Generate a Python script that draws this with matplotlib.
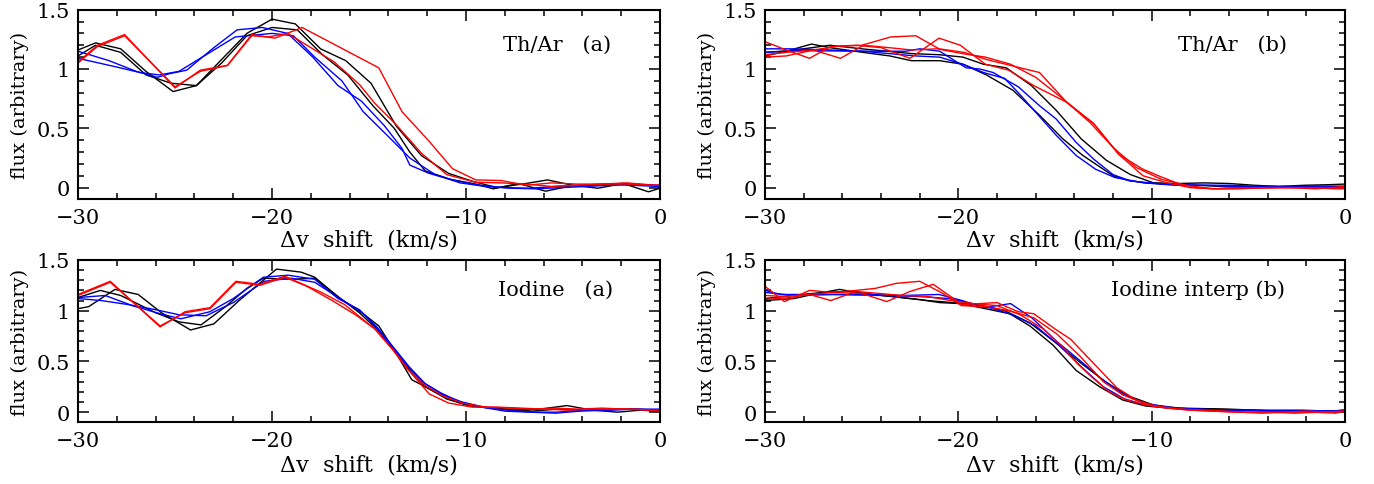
import matplotlib
matplotlib.use("Agg")
import matplotlib.pyplot as plt
from matplotlib.ticker import MultipleLocator, FuncFormatter

# ---------------- Th/Ar (a) ----------------
tha_k1_v = [-30, -29.1, -27.8, -26.5, -25.1, -23.9, -22.6, -21.3, -20.0, -18.8, -17.5, -16.2, -14.9, -13.6,
            -12.3, -10.9, -9.6, -8.4, -7.1, -5.8, -4.5, -3.2, -1.9, -0.6, 0]
tha_k1_f = [1.16, 1.22, 1.17, 0.98, 0.81, 0.86, 1.08, 1.30, 1.42, 1.38, 1.17, 1.07, 0.88, 0.52,
            0.27, 0.12, 0.05, 0.00, 0.03, 0.065, 0.02, -0.005, 0.035, -0.035, -0.005]
tha_k2_v = [-30, -29.1, -27.8, -26.5, -25.2, -23.9, -22.6, -21.3, -20.0, -18.7, -17.4, -16.1, -14.8, -13.7,
            -12.9, -12.1, -10.8, -9.5, -8.6, -7.3, -5.9, -4.6, -3.3, -2.0, -0.7, 0]
tha_k2_f = [1.11, 1.20, 1.14, 0.95, 0.88, 0.86, 1.05, 1.28, 1.35, 1.33, 1.12, 0.95, 0.69, 0.50,
            0.30, 0.14, 0.07, 0.03, -0.01, 0.035, -0.03, 0.015, 0.02, 0.035, 0.02, 0.01]
tha_b1_v = [-30, -28.4, -27.0, -25.9, -25.3, -24.4, -23.0, -21.8, -20.5, -19.2, -17.9, -16.6, -15.4, -14.2,
            -13.3, -12.9, -11.9, -10.6, -9.3, -8.0, -6.7, -5.4, -4.1, -2.8, -1.5, 0]
tha_b1_f = [1.15, 1.07, 0.98, 0.93, 0.96, 0.99, 1.18, 1.33, 1.35, 1.30, 1.10, 0.86, 0.73, 0.52,
            0.33, 0.19, 0.12, 0.06, 0.02, 0.00, -0.005, 0.01, 0.02, 0.03, 0.02, 0.01]
tha_b2_v = [-30, -28.1, -26.8, -25.8, -24.8, -23.4, -21.9, -20.0, -18.9, -17.8, -16.4, -15.3, -14.0, -12.9,
            -11.6, -10.3, -9.0, -7.7, -6.4, -5.1, -3.8, -2.5, -1.2, 0]
tha_b2_f = [1.09, 1.02, 0.97, 0.95, 0.98, 1.12, 1.27, 1.30, 1.28, 1.10, 0.90, 0.64, 0.43, 0.25,
            0.11, 0.04, 0.01, -0.005, -0.01, 0.00, 0.01, 0.02, 0.03, 0.02]
tha_r1_v = [-30, -29.0, -27.6, -25.0, -23.7, -22.3, -21.05, -19.85, -18.45, -14.5, -13.3, -11.9, -10.7,
            -9.5, -8.2, -6.9, -5.6, -4.3, -3.0, -1.7, -0.4, 0]
tha_r1_f = [1.06, 1.20, 1.29, 0.84, 0.99, 1.03, 1.29, 1.26, 1.35, 1.01, 0.64, 0.39, 0.16,
            0.065, 0.06, 0.02, 0.04, 0.03, 0.03, 0.04, 0.02, 0.02]
tha_r2_v = [-30, -29.0, -27.6, -25.0, -23.7, -22.3, -21.05, -20.2, -19.2, -17.8, -16.8, -15.5, -14.7, -13.6,
            -12.3, -11.0, -9.5, -8.2, -6.9, -5.6, -4.3, -3.0, -1.7, -0.4, 0]
tha_r2_f = [1.05, 1.19, 1.28, 0.85, 0.98, 1.03, 1.28, 1.27, 1.30, 1.16, 1.06, 0.87, 0.71, 0.53,
            0.29, 0.11, 0.045, 0.04, 0.03, 0.01, 0.02, 0.03, 0.03, 0.02, 0.02]

# ---------------- Th/Ar (b) ----------------
thb_k1_v = [-30, -28.9, -27.6, -26.65, -24.93, -23.55, -22.43, -20.97, -19.76, -18.55, -17.17, -15.8,
            -14.59, -13.55, -12.0, -11.2, -10.3, -9.0, -7.7, -6.4, -5.1, -3.8, -2.5, -1.2, 0]
thb_k1_f = [1.11, 1.15, 1.21, 1.18, 1.14, 1.11, 1.07, 1.07, 1.04, 0.95, 0.82, 0.61,
            0.41, 0.27, 0.10, 0.06, 0.04, 0.03, 0.02, 0.01, 0.00, 0.00, 0.01, 0.01, 0.01]
thb_k2_v = [-30, -28.7, -26.65, -25.0, -22.43, -20.97, -19.76, -18.7, -17.52, -16.22, -14.93, -13.64,
            -12.34, -11.1, -9.9, -8.6, -7.3, -6.0, -4.7, -3.4, -2.1, -0.8, 0]
thb_k2_f = [1.14, 1.155, 1.20, 1.17, 1.13, 1.12, 1.10, 1.04, 1.01, 0.86, 0.65, 0.41,
            0.23, 0.11, 0.04, 0.035, 0.04, 0.035, 0.02, 0.01, 0.02, 0.025, 0.03]
thb_b1_v = [-30, -28.7, -26.6, -24.9, -22.7, -22.0, -20.97, -19.6, -18.9, -18.2, -16.9, -15.8, -14.95,
            -13.9, -13.0, -12.0, -11.1, -9.4, -7.7, -6.0, -4.3, -2.6, -0.9, 0]
thb_b1_f = [1.17, 1.17, 1.16, 1.15, 1.15, 1.17, 1.15, 1.01, 1.00, 0.97, 0.85, 0.69, 0.58,
            0.38, 0.24, 0.11, 0.056, 0.03, 0.02, 0.02, 0.01, 0.01, 0.01, 0.01]
thb_b2_v = [-30, -28.3, -25.0, -22.2, -20.97, -19.76, -18.7, -17.6, -16.9, -15.97, -14.93, -13.9,
            -12.9, -11.9, -10.4, -8.8, -7.2, -5.6, -4.0, -2.4, -0.8, 0]
thb_b2_f = [1.14, 1.155, 1.15, 1.11, 1.10, 1.04, 0.97, 0.92, 0.80, 0.63, 0.44, 0.27,
            0.155, 0.085, 0.04, 0.02, 0.02, 0.01, 0.01, 0.01, 0.01, 0.01]
thb_r1_v = [-30, -28.9, -27.5, -26.3, -25.0, -23.5, -22.2, -21.0, -19.7, -18.55, -17.3, -15.8, -14.4,
            -13.0, -11.7, -10.45, -9.5, -8.55, -7.7, -6.5, -5.3, -4.0, -2.8, -1.5, 0]
thb_r1_f = [1.12, 1.14, 1.16, 1.19, 1.20, 1.27, 1.28, 1.17, 1.14, 1.08, 1.03, 0.97, 0.72,
            0.54, 0.28, 0.155, 0.09, 0.03, 0.00, -0.01, -0.005, 0.00, 0.00, -0.01, 0.01]
thb_r2_v = [-30, -28.9, -27.7, -26.6, -25.3, -24.0, -22.5, -21.0, -19.9, -18.6, -17.4, -16.1, -14.4,
            -13.0, -11.7, -10.45, -9.2, -8.0, -6.8, -5.5, -4.2, -3.0, -1.7, -0.5, 0]
thb_r2_f = [1.23, 1.16, 1.09, 1.19, 1.20, 1.18, 1.09, 1.26, 1.20, 1.04, 0.99, 0.86, 0.72,
            0.54, 0.28, 0.10, 0.04, 0.00, -0.01, -0.01, 0.00, 0.00, 0.00, -0.01, -0.01]
thb_r3_v = [-30, -28.9, -27.5, -26.1, -24.9, -23.6, -22.4, -21.1, -19.8, -18.6, -17.3, -16.0, -14.6,
            -13.2, -12.0, -10.8, -9.5, -8.2, -6.9, -5.6, -4.3, -3.0, -1.7, -0.4, 0]
thb_r3_f = [1.10, 1.11, 1.16, 1.09, 1.20, 1.18, 1.16, 1.17, 1.13, 1.10, 1.04, 0.93, 0.75,
            0.55, 0.34, 0.17, 0.07, 0.02, -0.01, 0.00, 0.00, 0.00, 0.00, 0.00, 0.00]

# ---------------- Iodine (a) ----------------
ioa_k1_v = [-30, -29.45, -28.1, -26.9, -25.7, -24.2, -23.0, -21.7, -19.77, -18.5, -17.8, -16.5, -15.3,
            -14.5, -13.6, -12.8, -12.0, -11.0, -9.8, -8.7, -7.5, -6.2, -4.8, -3.5, -2.2, -1.0, 0]
ioa_k1_f = [1.02, 1.04, 1.21, 1.16, 0.98, 0.81, 0.87, 1.10, 1.41, 1.38, 1.33, 1.12, 0.97,
            0.85, 0.58, 0.32, 0.24, 0.13, 0.06, 0.04, 0.02, 0.03, 0.065, 0.02, 0.00, 0.02, 0.01]
ioa_k2_v = [-30, -28.85, -27.8, -26.0, -24.8, -23.66, -22.4, -21.3, -20.45, -19.0, -17.8, -16.6, -15.5,
            -14.6, -13.7, -12.9, -12.1, -11.2, -10.3, -9.2, -7.9, -6.6, -5.3, -4.0, -2.7, -1.4, 0]
ioa_k2_f = [1.13, 1.20, 1.15, 0.98, 0.89, 0.86, 1.04, 1.22, 1.32, 1.31, 1.32, 1.14, 0.98,
            0.82, 0.62, 0.41, 0.25, 0.16, 0.09, 0.05, 0.03, 0.01, 0.03, 0.02, 0.03, 0.03, 0.02]
ioa_b1_v = [-30, -28.6, -27.2, -25.77, -24.7, -23.2, -22.0, -20.45, -19.17, -17.8, -16.6, -15.5, -14.7,
            -13.8, -13.0, -12.2, -11.3, -10.3, -9.2, -8.0, -6.7, -5.4, -4.1, -2.8, -1.5, 0]
ioa_b1_f = [1.13, 1.15, 1.05, 0.97, 0.92, 0.99, 1.12, 1.33, 1.35, 1.31, 1.12, 1.01, 0.85,
            0.64, 0.45, 0.29, 0.19, 0.10, 0.05, 0.01, 0.00, -0.01, 0.01, 0.02, 0.03, 0.02]
ioa_b2_v = [-30, -28.8, -27.4, -26.0, -24.8, -23.4, -22.0, -20.4, -19.0, -17.8, -16.5, -15.4, -14.6,
            -13.7, -12.9, -12.1, -11.2, -10.2, -9.1, -7.9, -6.6, -5.3, -4.0, -2.7, -1.4, 0]
ioa_b2_f = [1.12, 1.10, 1.06, 1.01, 0.96, 0.95, 1.08, 1.29, 1.32, 1.28, 1.12, 0.99, 0.84,
            0.63, 0.44, 0.28, 0.17, 0.10, 0.05, 0.02, 0.00, 0.00, 0.02, 0.02, 0.03, 0.03]
ioa_r1_v = [-30, -28.34, -25.77, -24.48, -23.2, -21.86, -20.63, -19.34, -17.45, -16.26, -14.7, -13.7,
            -12.9, -11.9, -10.9, -9.7, -8.4, -7.2, -6.0, -4.8, -3.6, -2.4, -1.2, 0]
ioa_r1_f = [1.16, 1.29, 0.84, 0.99, 1.03, 1.29, 1.26, 1.34, 1.18, 1.06, 0.82, 0.60,
            0.40, 0.18, 0.09, 0.05, 0.05, 0.04, 0.03, 0.02, 0.03, 0.03, 0.03, 0.01]
ioa_r2_v = [-30, -28.34, -25.77, -24.48, -23.2, -21.86, -20.63, -19.34, -18.2, -16.9, -15.7, -14.7,
            -13.8, -13.0, -12.1, -11.2, -10.2, -9.0, -7.8, -6.6, -5.4, -4.2, -3.0, -1.8, -0.6, 0]
ioa_r2_f = [1.15, 1.28, 0.85, 0.98, 1.02, 1.28, 1.25, 1.33, 1.24, 1.10, 0.96, 0.82,
            0.62, 0.42, 0.26, 0.16, 0.09, 0.05, 0.04, 0.03, 0.04, 0.03, 0.04, 0.03, 0.02, 0.02]

# ---------------- Iodine interp (b) ----------------
iob_k1_v = [-30, -28.5, -27.3, -26.14, -25.0, -23.4, -22.0, -20.97, -19.9, -18.6, -17.34, -16.3, -15.1,
            -13.9, -12.69, -11.5, -10.3, -9.1, -7.9, -6.7, -5.4, -4.2, -3.0, -1.7, -0.5, 0]
iob_k1_f = [1.10, 1.12, 1.17, 1.21, 1.17, 1.14, 1.11, 1.08, 1.07, 1.02, 0.97, 0.85, 0.66,
            0.41, 0.25, 0.12, 0.06, 0.04, 0.03, 0.03, 0.02, 0.01, 0.01, 0.01, 0.01, 0.02]
iob_k2_v = [-30, -28.6, -27.0, -25.7, -24.4, -23.0, -21.6, -20.3, -19.0, -17.6, -16.3, -15.0, -13.7,
            -12.4, -11.2, -9.9, -8.6, -7.3, -6.0, -4.7, -3.4, -2.1, -0.8, 0]
iob_k2_f = [1.12, 1.15, 1.18, 1.19, 1.16, 1.13, 1.10, 1.08, 1.06, 1.00, 0.88, 0.69, 0.49,
            0.30, 0.16, 0.07, 0.04, 0.035, 0.03, 0.02, 0.01, 0.01, 0.01, 0.02]
iob_b1_v = [-30, -29.2, -27.0, -24.8, -22.9, -21.0, -19.8, -18.7, -17.3, -16.2, -14.93, -13.72, -12.6,
            -11.5, -10.4, -9.2, -7.8, -6.4, -5.0, -3.6, -2.2, -0.8, 0]
iob_b1_f = [1.20, 1.16, 1.16, 1.16, 1.15, 1.16, 1.10, 1.03, 1.07, 0.93, 0.70, 0.51, 0.33,
            0.18, 0.09, 0.05, 0.03, 0.02, 0.02, 0.02, 0.02, 0.01, 0.02]
iob_b2_v = [-30, -28.5, -26.5, -24.0, -22.0, -20.5, -19.3, -18.2, -17.2, -16.0, -14.8, -13.6, -12.5,
            -11.4, -10.3, -9.0, -7.6, -6.2, -4.8, -3.4, -2.0, -0.6, 0]
iob_b2_f = [1.18, 1.15, 1.16, 1.15, 1.14, 1.12, 1.07, 1.02, 0.96, 0.85, 0.66, 0.44, 0.25,
            0.13, 0.07, 0.04, 0.03, 0.02, 0.02, 0.01, 0.01, 0.01, 0.01]
iob_r1_v = [-30, -29.0, -27.7, -26.5, -25.3, -24.3, -23.2, -22.0, -20.8, -19.84, -18.5, -17.2, -16.1,
            -14.9, -13.7, -12.5, -11.5, -10.3, -9.2, -8.0, -6.8, -5.5, -4.3, -3.0, -1.7, -0.5, 0]
iob_r1_f = [1.15, 1.14, 1.16, 1.18, 1.20, 1.22, 1.27, 1.29, 1.17, 1.05, 1.04, 0.99, 0.93,
            0.77, 0.55, 0.30, 0.17, 0.08, 0.04, 0.02, 0.01, 0.00, -0.01, 0.00, 0.00, -0.01, 0.01]
iob_r2_v = [-30, -29.0, -27.7, -26.5, -25.0, -23.7, -22.5, -21.3, -19.8, -18.0, -16.9, -16.1, -15.0,
            -14.2, -13.4, -12.6, -11.8, -10.8, -9.8, -8.6, -7.4, -6.2, -5.0, -3.8, -2.6, -1.3, 0]
iob_r2_f = [1.24, 1.09, 1.20, 1.18, 1.17, 1.09, 1.19, 1.26, 1.06, 1.08, 0.99, 0.97, 0.82,
            0.72, 0.56, 0.40, 0.24, 0.12, 0.06, 0.03, 0.02, 0.01, 0.00, 0.00, -0.01, 0.00, 0.01]
iob_r3_v = [-30, -28.7, -27.7, -26.6, -25.3, -24.1, -22.9, -21.6, -20.4, -19.2, -18.0, -16.8, -15.6,
            -14.6, -13.8, -13.0, -12.2, -11.3, -10.3, -9.2, -8.0, -6.8, -5.6, -4.4, -3.2, -2.0, -0.8, 0]
iob_r3_f = [1.11, 1.13, 1.16, 1.10, 1.19, 1.17, 1.15, 1.14, 1.10, 1.07, 1.05, 0.96, 0.82,
            0.64, 0.47, 0.33, 0.20, 0.12, 0.07, 0.04, 0.02, 0.01, 0.00, 0.00, 0.00, 0.01, 0.00, 0.01]

panel_labels = ["Th/Ar   (a)", "Th/Ar   (b)", "Iodine   (a)", "Iodine interp (b)"]

panels = [
    [(tha_k1_v, tha_k1_f, "k"), (tha_k2_v, tha_k2_f, "k"), (tha_b1_v, tha_b1_f, "b"),
     (tha_b2_v, tha_b2_f, "b"), (tha_r1_v, tha_r1_f, "r"), (tha_r2_v, tha_r2_f, "r")],
    [(thb_k1_v, thb_k1_f, "k"), (thb_k2_v, thb_k2_f, "k"), (thb_b1_v, thb_b1_f, "b"),
     (thb_b2_v, thb_b2_f, "b"), (thb_r1_v, thb_r1_f, "r"), (thb_r2_v, thb_r2_f, "r"),
     (thb_r3_v, thb_r3_f, "r")],
    [(ioa_k1_v, ioa_k1_f, "k"), (ioa_k2_v, ioa_k2_f, "k"), (ioa_b1_v, ioa_b1_f, "b"),
     (ioa_b2_v, ioa_b2_f, "b"), (ioa_r1_v, ioa_r1_f, "r"), (ioa_r2_v, ioa_r2_f, "r")],
    [(iob_k1_v, iob_k1_f, "k"), (iob_k2_v, iob_k2_f, "k"), (iob_b1_v, iob_b1_f, "b"),
     (iob_b2_v, iob_b2_f, "b"), (iob_r1_v, iob_r1_f, "r"), (iob_r2_v, iob_r2_f, "r"),
     (iob_r3_v, iob_r3_f, "r")],
]

colors = {"k": "#000000", "b": "#0000ff", "r": "#ff0000"}

plt.rcParams["font.family"] = "DejaVu Serif"
plt.rcParams["font.size"] = 14

fig = plt.figure(figsize=(13.74, 4.85), dpi=100)
# [left, bottom, width, height] in figure fraction
rects = [
    [0.0568, 0.5866, 0.4236, 0.3914],
    [0.5568, 0.5866, 0.4221, 0.3914],
    [0.0568, 0.1272, 0.4236, 0.3347],
    [0.5568, 0.1272, 0.4221, 0.3347],
]
label_x = [0.916, 0.90, 0.919, 0.897]


def fmt_x(x, pos):
    return f"{x:.0f}".replace("-", "\u2212")


def fmt_y(y, pos):
    return f"{y:g}"


for i, (rect, lines) in enumerate(zip(rects, panels)):
    ax = fig.add_axes(rect)
    for v, f, c in lines:
        ax.plot(v, f, color=colors[c], lw=1.0)
    ax.set_xlim(-30, 0)
    ax.set_ylim(-0.1, 1.5)
    ax.xaxis.set_major_locator(MultipleLocator(10))
    ax.xaxis.set_minor_locator(MultipleLocator(2))
    ax.yaxis.set_major_locator(MultipleLocator(0.5))
    ax.yaxis.set_minor_locator(MultipleLocator(0.1))
    ax.xaxis.set_major_formatter(FuncFormatter(fmt_x))
    ax.yaxis.set_major_formatter(FuncFormatter(fmt_y))
    ax.tick_params(which="both", direction="in", top=True, right=True, width=1.1, labelsize=15)
    ax.tick_params(which="major", length=8, pad=6)
    ax.tick_params(which="minor", length=4)
    for s in ax.spines.values():
        s.set_linewidth(1.5)
    ax.set_xlabel("\u0394v  shift  (km/s)", fontsize=16)
    ax.set_ylabel("flux (arbitrary)")
    ax.yaxis.set_label_coords(-0.085, 0.5)
    ax.xaxis.set_label_coords(0.5, -0.155 if i < 2 else -0.195)
    ax.text(label_x[i], 0.82, panel_labels[i], transform=ax.transAxes, ha="right", va="center",
            fontsize=15)

fig.savefig("out.png", dpi=100)
